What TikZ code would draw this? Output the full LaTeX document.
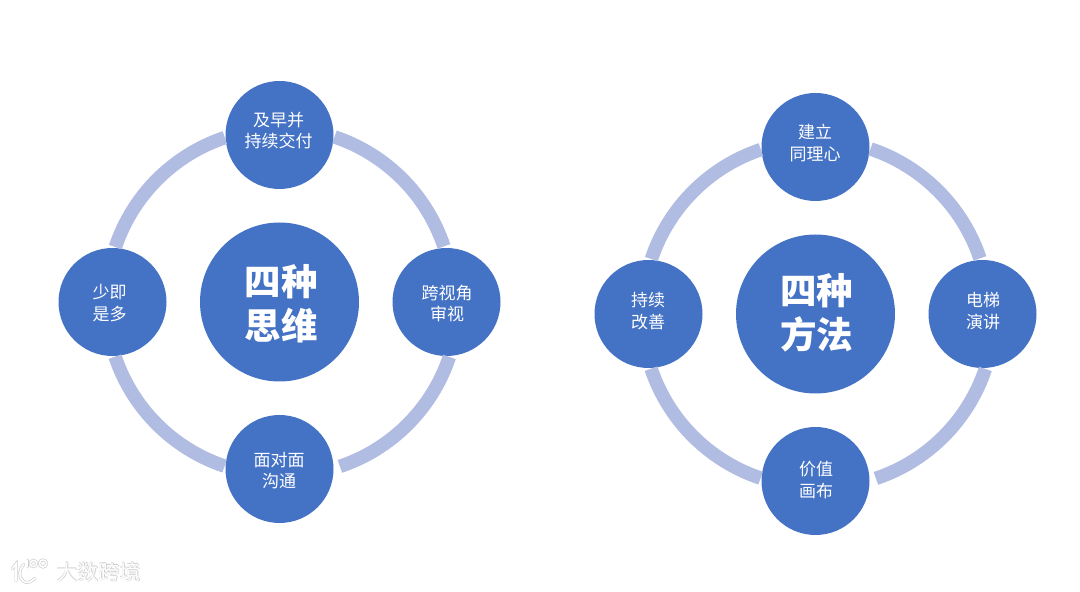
\documentclass[tikz,border=0pt]{standalone}
\usepackage{fontspec}
\setmainfont{Noto Sans CJK SC}
\definecolor{blueC}{HTML}{4472C4}
\definecolor{ringC}{HTML}{B0BCE1}
\definecolor{markC}{HTML}{CFCFCF}
\tikzset{
 x=1pt,y=1pt,
 sat/.style={circle,fill=blueC,minimum size=108pt,inner sep=0pt,outer sep=1pt},
 sattext/.style={text=white,align=center,inner sep=0pt,font=\fontsize{17}{21.7}\selectfont},
 hub/.style={circle,fill=blueC,minimum size=159pt,inner sep=0pt},
 hubtext/.style={text=white,align=center,inner sep=0pt,font=\fontsize{36.5}{43.5}\selectfont\bfseries},
 ringline/.style={ringC,line width=13.5pt,line cap=butt},
 marktext/.style={text=white,font=\fontsize{21}{22}\selectfont,inner sep=0pt},
 markshadow/.style={text=markC,font=\fontsize{21}{22}\selectfont,inner sep=0pt},
 logoline/.style={draw=markC,double=white,double distance=1.6pt,line width=0.7pt,line cap=round}
}
\begin{document}
\begin{tikzpicture}
\useasboundingbox (0,0) rectangle (1080,592);
% left group
\node[hub] (h1) at (279.5,290) {};
\node[hubtext] (h1t) at (281,288.5) {四种\\思维};
\node[sat] (a1) at (279.5,457) {};
\node[sat] (a2) at (446.5,290) {};
\node[sat] (a3) at (279.5,123) {};
\node[sat] (a4) at (112.5,290) {};
\node[sattext] (a1t) at (278.5,461.5) {及早并\\持续交付};
\node[sattext] (a2t) at (447,288.5) {跨视角\\审视};
\node[sattext] (a3t) at (279,121.5) {面对面\\沟通};
\node[sattext] (a4t) at (109.5,289) {少即\\是多};
\draw[ringline] (a1.-2.6) arc[start angle=71.5,end angle=18.5,radius=173.5];
\draw[ringline] (a2.-87.4) arc[start angle=-18.5,end angle=-71.5,radius=173.5];
\draw[ringline] (a3.177.4) arc[start angle=-108.5,end angle=-161.5,radius=173.5];
\draw[ringline] (a4.87.4) arc[start angle=161.5,end angle=108.5,radius=173.5];
% right group
\node[hub] (h2) at (815.5,278) {};
\node[hubtext] (h2t) at (816.5,279) {四种\\方法};
\node[sat] (b1) at (815.5,445) {};
\node[sat] (b2) at (982.5,278) {};
\node[sat] (b3) at (815.5,111) {};
\node[sat] (b4) at (648.5,278) {};
\node[sattext] (b1t) at (815,449) {建立\\同理心};
\node[sattext] (b2t) at (983,281) {电梯\\演讲};
\node[sattext] (b3t) at (816,112) {价值\\画布};
\node[sattext] (b4t) at (648,281) {持续\\改善};
\draw[ringline] (b1.-2.6) arc[start angle=71.5,end angle=18.5,radius=173.5];
\draw[ringline] (b2.-87.4) arc[start angle=-18.5,end angle=-71.5,radius=173.5];
\draw[ringline] (b3.177.4) arc[start angle=-108.5,end angle=-161.5,radius=173.5];
\draw[ringline] (b4.87.4) arc[start angle=161.5,end angle=108.5,radius=173.5];
% watermark
\node[markshadow] (ws1) at (99.3,19.4) {大数跨境};
\node[markshadow] (ws2) at (98.1,20.6) {大数跨境};
\node[marktext] (wt) at (98.7,20) {大数跨境};
\draw[logoline] (12,23) -- (16,28) -- (16,11);
\draw[logoline] (24,28) .. controls (19,23) and (18,15) .. (23,11) .. controls (27,8) and (32,10) .. (35,14);
\draw[logoline] (27,32) -- (27,25);
\draw[logoline] (33.5,28.5) circle (3.2);
\draw[logoline] (43,28.5) circle (3.6);
\end{tikzpicture}
\end{document}
